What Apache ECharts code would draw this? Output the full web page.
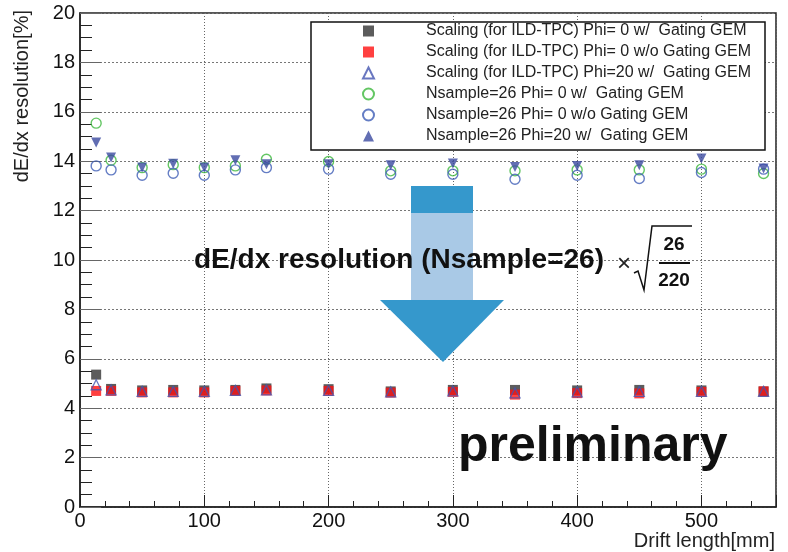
<!DOCTYPE html>
<html>
<head>
<meta charset="utf-8">
<title>dE/dx resolution vs drift length</title>
<script src="https://cdn.jsdelivr.net/npm/echarts@6.0.0/dist/echarts.min.js"></script>
<style>
  html, body { margin: 0; padding: 0; background: #fff; }
  #chart { width: 788px; height: 552px; }
</style>
</head>
<body>
<div id="chart"></div>
<script>
// drift lengths [mm]
const driftLength = [13, 25, 50, 75, 100, 125, 150, 200, 250, 300, 350, 400, 450, 500, 550];

// scaled to ILD-TPC
const scalingPhi0With = [5.36, 4.78, 4.72, 4.74, 4.72, 4.74, 4.80, 4.77, 4.68, 4.74, 4.74, 4.72, 4.74, 4.72, 4.68];
const scalingPhi0Without = [4.70, 4.70, 4.64, 4.64, 4.64, 4.70, 4.72, 4.70, 4.63, 4.66, 4.55, 4.61, 4.60, 4.66, 4.68];
const scalingPhi20With = [4.95, 4.74, 4.68, 4.68, 4.68, 4.72, 4.74, 4.72, 4.66, 4.70, 4.62, 4.66, 4.68, 4.68, 4.68];

// Nsample = 26
const nsamplePhi0With = [15.54, 14.04, 13.74, 13.86, 13.74, 13.81, 14.08, 13.99, 13.61, 13.61, 13.61, 13.65, 13.65, 13.68, 13.50];
const nsamplePhi0Without = [13.81, 13.65, 13.43, 13.51, 13.43, 13.65, 13.74, 13.68, 13.47, 13.47, 13.27, 13.43, 13.30, 13.54, 13.68];
const nsamplePhi20With = [14.76, 14.15, 13.74, 13.90, 13.74, 14.04, 13.88, 13.88, 13.84, 13.91, 13.77, 13.81, 13.84, 14.11, 13.70];

const seriesNames = [
    'Scaling (for ILD-TPC) Phi= 0 w/  Gating GEM',
    'Scaling (for ILD-TPC) Phi= 0 w/o Gating GEM',
    'Scaling (for ILD-TPC) Phi=20 w/  Gating GEM',
    'Nsample=26 Phi= 0 w/  Gating GEM',
    'Nsample=26 Phi= 0 w/o Gating GEM',
    'Nsample=26 Phi=20 w/  Gating GEM'
];

const FONT = '"Liberation Sans", Arial, sans-serif';

class ResolutionChart {
    constructor(containerId) {
        this.containerId = containerId;
        this.chart = null;
    }

    init() {
        this.chart = echarts.init(document.getElementById(this.containerId), null, { renderer: 'canvas' });
        this.setOption();
    }

    points(values) {
        return driftLength.map((x, i) => [x, values[i]]);
    }

    marker(name, values, symbol, style, rotate) {
        return {
            name: name,
            type: 'scatter',
            data: this.points(values),
            symbol: symbol,
            symbolSize: 10,
            symbolRotate: rotate || 0,
            itemStyle: style,
            emphasis: { disabled: true }
        };
    }

    setOption() {
        const series = [
            this.marker(seriesNames[0], scalingPhi0With, 'rect', { color: '#333333' }),
            this.marker(seriesNames[1], scalingPhi0Without, 'rect', { color: '#ff1010' }),
            this.marker(seriesNames[2], scalingPhi20With, 'triangle',
                { color: 'rgba(0,0,0,0)', borderColor: '#4455b0', borderWidth: 1.3 }),
            this.marker(seriesNames[3], nsamplePhi0With, 'circle',
                { color: 'rgba(0,0,0,0)', borderColor: '#3cb83c', borderWidth: 1.4 }),
            this.marker(seriesNames[4], nsamplePhi0Without, 'circle',
                { color: 'rgba(0,0,0,0)', borderColor: '#3d5db5', borderWidth: 1.4 }),
            this.marker(seriesNames[5], nsamplePhi20With, 'triangle', { color: '#3b4aa0' }, 180)
        ];

        const option = {
            backgroundColor: '#ffffff',
            animation: false,
            grid: {
                left: 80, right: 12, top: 13, bottom: 45,
                show: true, borderColor: '#222', borderWidth: 1.5
            },
            xAxis: {
                type: 'value',
                min: 0, max: 560, interval: 100,
                axisLine: { lineStyle: { color: '#222', width: 1.5 } },
                axisTick: { inside: true, length: 12, lineStyle: { color: '#222' } },
                minorTick: { show: true, splitNumber: 5, length: 6, lineStyle: { color: '#222' } },
                axisLabel: { fontFamily: FONT, fontSize: 20, color: '#111', margin: 4, showMaxLabel: false },
                splitLine: { show: true, lineStyle: { color: '#666', type: [1, 2], width: 1 } }
            },
            yAxis: {
                type: 'value',
                min: 0, max: 20, interval: 2,
                axisLine: { lineStyle: { color: '#222', width: 1.5 } },
                axisTick: { inside: true, length: 21, lineStyle: { color: '#666' } },
                minorTick: { show: true, splitNumber: 4, length: 12, lineStyle: { color: '#222' } },
                axisLabel: { fontFamily: FONT, fontSize: 20, color: '#111', margin: 5 },
                splitLine: { show: true, lineStyle: { color: '#777', type: [2, 2], width: 1 } }
            },
            legend: {
                orient: 'vertical',
                left: 362, top: 23,
                padding: 0,
                itemWidth: 11, itemHeight: 11, itemGap: 5,
                selectedMode: false,
                textStyle: {
                    fontFamily: FONT, fontSize: 16, lineHeight: 16, color: '#222',
                    padding: [0, 0, 0, 47]
                },
                data: seriesNames
            },
            graphic: [
                // legend frame
                { type: 'rect', z: 3, shape: { x: 311, y: 22, width: 454, height: 128 },
                  style: { fill: '#fff', stroke: '#111', lineWidth: 1.5 } },
                // arrow
                { type: 'rect', z: 5, shape: { x: 411, y: 186, width: 62, height: 27 },
                  style: { fill: '#3598cc' } },
                { type: 'rect', z: 5, shape: { x: 411, y: 213, width: 62, height: 87 },
                  style: { fill: '#a9c9e6' } },
                { type: 'polygon', z: 5, shape: { points: [[380, 300], [504, 300], [443, 362]] },
                  style: { fill: '#3598cc' } },
                // annotation text
                { type: 'text', z: 6, x: 194, y: 260,
                  style: { text: 'dE/dx resolution (Nsample=26)', font: 'bold 28px ' + FONT,
                           fill: '#111', verticalAlign: 'middle' } },
                { type: 'text', z: 6, x: 624, y: 264,
                  style: { text: '×', font: '24px ' + FONT, fill: '#222',
                           align: 'center', verticalAlign: 'middle' } },
                { type: 'polyline', z: 6,
                  shape: { points: [[634, 273], [638, 271], [644, 290], [652, 226], [692, 226]] },
                  style: { stroke: '#111', lineWidth: 1.5, fill: null } },
                { type: 'text', z: 6, x: 674, y: 245,
                  style: { text: '26', font: 'bold 19px ' + FONT, fill: '#111',
                           align: 'center', verticalAlign: 'middle' } },
                { type: 'line', z: 6, shape: { x1: 659, y1: 263, x2: 690, y2: 263 },
                  style: { stroke: '#111', lineWidth: 2 } },
                { type: 'text', z: 6, x: 674, y: 281,
                  style: { text: '220', font: 'bold 19px ' + FONT, fill: '#111',
                           align: 'center', verticalAlign: 'middle' } },
                { type: 'text', z: 6, x: 458, y: 447,
                  style: { text: 'preliminary', font: 'bold 50px ' + FONT, fill: '#111',
                           verticalAlign: 'middle' } },
                // axis titles
                { type: 'text', z: 6, x: 22, y: 10, rotation: Math.PI / 2,
                  style: { text: 'dE/dx resolution[%]', font: '20px ' + FONT, fill: '#222',
                           align: 'right', verticalAlign: 'middle' } },
                { type: 'text', z: 6, x: 775, y: 541,
                  style: { text: 'Drift length[mm]', font: '20px ' + FONT, fill: '#222',
                           align: 'right', verticalAlign: 'middle' } }
            ],
            series: series
        };

        this.chart.setOption(option);
    }
}

const resolutionChart = new ResolutionChart('chart');
resolutionChart.init();
</script>
</body>
</html>
